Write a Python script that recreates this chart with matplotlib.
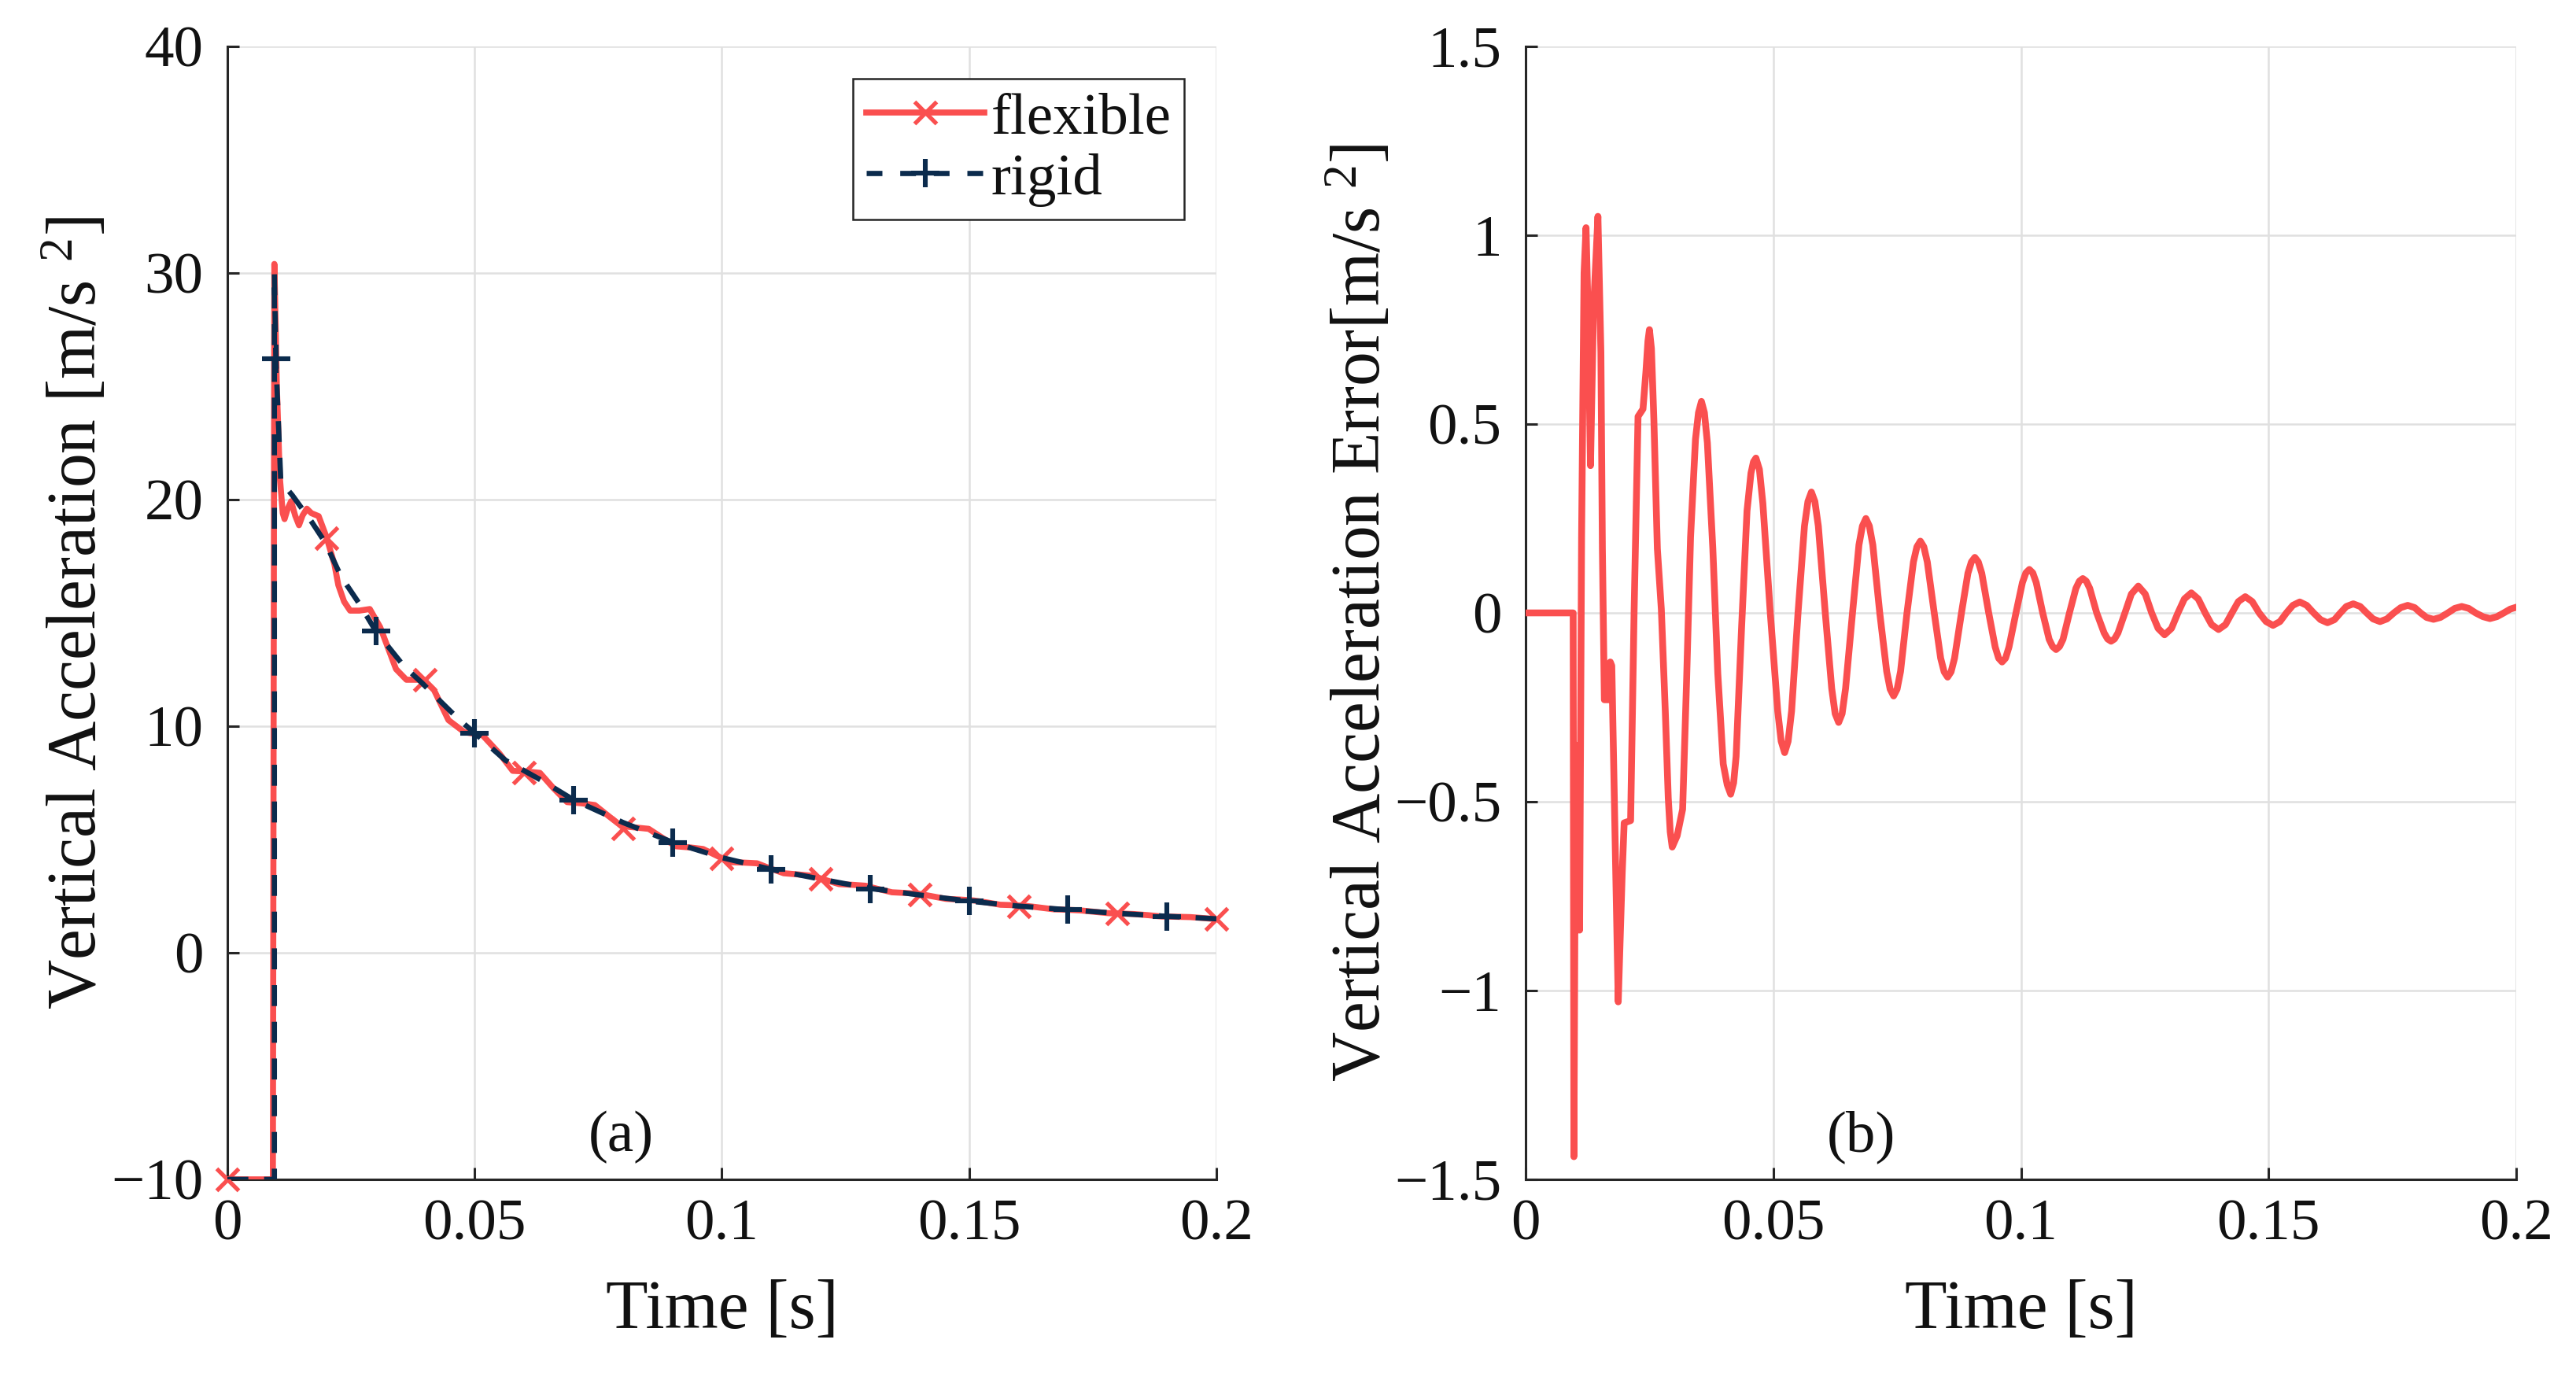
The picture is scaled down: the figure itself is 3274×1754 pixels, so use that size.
import numpy as np
import matplotlib
matplotlib.use("Agg")
import matplotlib.pyplot as plt
from matplotlib.lines import Line2D
from matplotlib.ticker import FixedLocator, FixedFormatter

plt.rcParams['font.family'] = ['Liberation Serif', 'DejaVu Serif']
plt.rcParams['mathtext.fontset'] = 'custom'
plt.rcParams['mathtext.rm'] = 'Liberation Serif'
plt.rcParams['mathtext.it'] = 'Liberation Serif:italic'
plt.rcParams['axes.unicode_minus'] = True

# ---------------- data ----------------
# (a) rigid model vertical acceleration
rigid_t = [0, 0.0095, 0.0095, 0.0098, 0.0108, 0.0131, 0.0171, 0.0198, 0.0230,
           0.0267, 0.0300, 0.0357, 0.0394, 0.0426, 0.0468, 0.0500, 0.0562,
           0.0636, 0.0700, 0.0800, 0.0900, 0.1000, 0.1100, 0.1200, 0.1300,
           0.1400, 0.1500, 0.1600, 0.1700, 0.1800, 0.1900, 0.2000]
rigid_a = [-10, -10, 30.0, 26.2, 20.8, 20.2, 19.0, 18.1, 16.6,
           15.4, 14.2, 12.65, 11.9, 11.2, 10.3, 9.7, 8.5,
           7.6, 6.75, 5.75, 4.88, 4.2, 3.68, 3.25, 2.84,
           2.55, 2.28, 2.06, 1.9, 1.74, 1.61, 1.5]

# (a) flexible model vertical acceleration
flex_t = [0, 0.0092, 0.0095, 0.0100, 0.0106, 0.0112, 0.01156, 0.0122, 0.01289,
          0.0137, 0.01448, 0.0152, 0.01607, 0.0170, 0.01846, 0.02005, 0.02164,
          0.02243, 0.0236, 0.02482, 0.02668, 0.0288, 0.0309, 0.0341, 0.0362,
          0.0397, 0.0418, 0.0447, 0.0479, 0.0516, 0.0550, 0.0577, 0.0605,
          0.0632, 0.0660, 0.0687, 0.0715, 0.0743, 0.0770, 0.0797, 0.0825,
          0.0852, 0.0880, 0.0907, 0.0935, 0.0962, 0.0990, 0.1017, 0.1044,
          0.1071, 0.1098, 0.1125, 0.1153, 0.1182, 0.1210, 0.1237, 0.1264,
          0.1290, 0.1317, 0.1344, 0.1372, 0.1399, 0.1426, 0.1453, 0.1481,
          0.1509, 0.1536, 0.1563, 0.1591, 0.1619, 0.1645, 0.1671, 0.1698,
          0.1725, 0.1753, 0.1781, 0.1807, 0.1833, 0.1862, 0.1890, 0.1918,
          0.1947, 0.1975, 0.2000]
flex_a = [-10, -10, 30.4, 25.0, 21.0, 19.4, 19.14, 19.6, 19.93,
          19.3, 18.87, 19.3, 19.6, 19.4, 19.27, 18.34, 17.15,
          16.23, 15.5, 15.10, 15.1, 15.17, 14.37, 12.52, 12.05,
          12.05, 11.59, 10.27, 9.74, 9.6, 8.8, 8.03, 8.0,
          7.94, 7.25, 6.65, 6.6, 6.52, 6.05, 5.59, 5.53,
          5.47, 5.07, 4.70, 4.65, 4.58, 4.28, 4.0, 3.98,
          3.95, 3.72, 3.51, 3.46, 3.4, 3.21, 3.03, 3.0,
          2.96, 2.81, 2.67, 2.64, 2.6, 2.49, 2.38, 2.35,
          2.31, 2.22, 2.12, 2.1, 2.06, 1.99, 1.92, 1.9,
          1.87, 1.81, 1.75, 1.73, 1.71, 1.66, 1.60, 1.59,
          1.575, 1.53, 1.485]

# marker positions
flex_mk_t = [0, 0.02, 0.04, 0.06, 0.08, 0.10, 0.12, 0.14, 0.16, 0.18, 0.20]
flex_mk_a = [-10, 18.3, 12.05, 7.95, 5.5, 4.17, 3.26, 2.57, 2.05, 1.72, 1.49]
rigid_mk_t = [0.0098, 0.03, 0.05, 0.07, 0.09, 0.11, 0.13, 0.15, 0.17, 0.19]
rigid_mk_a = [26.2, 14.2, 9.7, 6.74, 4.86, 3.67, 2.82, 2.28, 1.90, 1.61]

# (b) vertical acceleration error
err_t = [0, 0.0096, 0.00975, 0.0101, 0.0104, 0.0106, 0.0109, 0.0113, 0.0118,
         0.0122, 0.0126, 0.0131, 0.0137, 0.0146, 0.0152, 0.0155, 0.0159,
         0.0168, 0.0171, 0.0174, 0.0182, 0.0187, 0.0195, 0.0199, 0.0212,
         0.0219, 0.0227, 0.0237, 0.0243, 0.0247, 0.0250, 0.0254, 0.0259,
         0.0266, 0.0274, 0.0282, 0.0288, 0.0292, 0.0296, 0.0306, 0.0317,
         0.0325, 0.0333, 0.0343, 0.0349, 0.0355, 0.0361, 0.0367, 0.0378,
         0.0388, 0.0399, 0.0407, 0.0414, 0.0420, 0.0425, 0.0436, 0.0447,
         0.0455, 0.0460, 0.0465, 0.0472, 0.0479, 0.0494, 0.0509, 0.0516,
         0.0523, 0.0530, 0.0537, 0.0550, 0.0563, 0.0570, 0.0577, 0.0584,
         0.0591, 0.0605, 0.0618, 0.0625, 0.0632, 0.0639, 0.0646, 0.0660,
         0.0673, 0.0680, 0.0687, 0.0694, 0.0701, 0.0715, 0.0729, 0.0736,
         0.0743, 0.0750, 0.0757, 0.0770, 0.0783, 0.0790, 0.0797, 0.0804,
         0.0811, 0.0825, 0.0838, 0.0845, 0.0852, 0.0859, 0.0866, 0.0880,
         0.0893, 0.0900, 0.0907, 0.0914, 0.0921, 0.0935, 0.0948, 0.0955,
         0.0962, 0.0969, 0.0976, 0.0990, 0.1003, 0.1010, 0.1017, 0.1024,
         0.1031, 0.1044, 0.1057, 0.1064, 0.1071, 0.1078, 0.1085, 0.1098,
         0.1111, 0.1118, 0.1125, 0.1132, 0.1139, 0.1153, 0.1168, 0.1175,
         0.1182, 0.1189, 0.1196, 0.1210, 0.1223, 0.1237, 0.1251, 0.1264,
         0.1277, 0.1290, 0.1304, 0.1317, 0.1330, 0.1344, 0.1358, 0.1372,
         0.1385, 0.1399, 0.1413, 0.1426, 0.1439, 0.1453, 0.1467, 0.1481,
         0.1495, 0.1509, 0.1523, 0.1536, 0.1549, 0.1563, 0.1577, 0.1591,
         0.1605, 0.1619, 0.1633, 0.1645, 0.1657, 0.1671, 0.1685, 0.1698,
         0.1711, 0.1725, 0.1739, 0.1753, 0.1767, 0.1781, 0.1795, 0.1807,
         0.1819, 0.1833, 0.1847, 0.1862, 0.1876, 0.1890, 0.1904, 0.1918,
         0.1933, 0.1947, 0.1961, 0.1975, 0.1988, 0.2000]
err_v = [0, 0, -1.44, -0.35, -0.84, -0.36, -0.84, 0.2, 0.9,
         1.02, 0.8, 0.39, 0.8, 1.05, 0.69, 0.17, -0.23,
         -0.23, -0.13, -0.14, -0.69, -1.03, -0.69, -0.556, -0.55,
         0.0, 0.52, 0.54, 0.64, 0.72, 0.75, 0.70, 0.51,
         0.17, 0.01, -0.26, -0.49, -0.58, -0.62, -0.59, -0.52,
         -0.18, 0.20, 0.46, 0.53, 0.56, 0.53, 0.45, 0.17,
         -0.16, -0.40, -0.455, -0.48, -0.45, -0.38, -0.04, 0.27,
         0.37, 0.40, 0.41, 0.38, 0.29, 0.0, -0.26, -0.34,
         -0.37, -0.34, -0.26, 0.0, 0.23, 0.295, 0.32, 0.295,
         0.23, 0.0, -0.20, -0.267, -0.29, -0.267, -0.20, 0.0,
         0.18, 0.23, 0.25, 0.23, 0.18, 0.0, -0.155, -0.202,
         -0.22, -0.202, -0.155, 0.0, 0.135, 0.175, 0.19, 0.175,
         0.135, 0.0, -0.12, -0.156, -0.17, -0.156, -0.12, 0.0,
         0.105, 0.135, 0.147, 0.135, 0.105, 0.0, -0.09, -0.12,
         -0.13, -0.12, -0.09, 0.0, 0.08, 0.106, 0.115, 0.106,
         0.08, 0.0, -0.07, -0.089, -0.097, -0.089, -0.07, 0.0,
         0.065, 0.084, 0.091, 0.084, 0.065, 0.0, -0.053, -0.069,
         -0.075, -0.069, -0.053, 0.0, 0.05, 0.071, 0.05, 0.0,
         -0.041, -0.058, -0.041, 0.0, 0.037, 0.053, 0.037, 0.0,
         -0.031, -0.044, -0.031, 0.0, 0.03, 0.043, 0.03, 0.0,
         -0.023, -0.033, -0.023, 0.0, 0.02, 0.029, 0.02, 0.0,
         -0.018, -0.026, -0.018, 0.0, 0.017, 0.024, 0.017, 0.0,
         -0.016, -0.023, -0.016, 0.0, 0.014, 0.020, 0.014, 0.0,
         -0.012, -0.017, -0.012, 0.0, 0.012, 0.017, 0.012, 0.0,
         -0.01, -0.015, -0.01, 0.0, 0.01, 0.015]

x_ticks = [0, 0.05, 0.1, 0.15, 0.2]
x_tick_labels = ['0', '0.05', '0.1', '0.15', '0.2']
ya_ticks = [-10, 0, 10, 20, 30, 40]
ya_tick_labels = ['\u221210', '0', '10', '20', '30', '40']
yb_ticks = [-1.5, -1, -0.5, 0, 0.5, 1, 1.5]
yb_tick_labels = ['\u22121.5', '\u22121', '\u22120.5', '0', '0.5', '1', '1.5']

# ---------------- style ----------------
RED = '#FA4F4F'
NAVY = '#0B2B4D'
TICK_FS = 54
LABEL_FS = 63
GRID_C = '#e0e0e0'
SPINE_C = '#262626'
TEXT_C = '#111111'

fig = plt.figure(figsize=(32.74, 17.54), dpi=100)
ax1 = fig.add_axes([0.08827, 0.14538, 0.38393, 0.82098])
ax2 = fig.add_axes([0.59224, 0.14538, 0.38455, 0.82098])


def style_axes(ax, yticks, ylabels):
    ax.set_xlim(0, 0.2)
    ax.xaxis.set_major_locator(FixedLocator(x_ticks))
    ax.xaxis.set_major_formatter(FixedFormatter(x_tick_labels))
    ax.yaxis.set_major_locator(FixedLocator(yticks))
    ax.yaxis.set_major_formatter(FixedFormatter(ylabels))
    ax.grid(True, color=GRID_C, linewidth=1.8, zorder=0)
    ax.set_axisbelow(True)
    for s in ['top', 'right']:
        ax.spines[s].set_visible(False)
    for s in ['left', 'bottom']:
        ax.spines[s].set_color(SPINE_C)
        ax.spines[s].set_linewidth(2.2)
    ax.tick_params(axis='both', direction='in', length=11, width=2.2,
                   color=SPINE_C, labelsize=TICK_FS, labelcolor=TEXT_C)
    ax.tick_params(axis='x', pad=18)
    ax.tick_params(axis='y', pad=22)


# ---- panel (a)
style_axes(ax1, ya_ticks, ya_tick_labels)
ax1.set_ylim(-10, 40)
ax1.plot(flex_t, flex_a, color=RED, lw=5.5, zorder=3, solid_joinstyle='round')
ax1.plot(flex_mk_t, flex_mk_a, ls='none', marker='x', ms=20, mew=3.8,
         color=RED, zorder=4, clip_on=False)
ax1.plot(rigid_t, rigid_a, color=NAVY, lw=4.8, ls=(0, (4, 3)), zorder=5)
ax1.plot(rigid_mk_t, rigid_mk_a, ls='none', marker='+', ms=26, mew=4.4,
         color=NAVY, zorder=6, clip_on=False)

h_flex = Line2D([], [], color=RED, lw=5.5, marker='x', ms=20, mew=3.8)
h_rig = Line2D([], [], color=NAVY, lw=4.8, ls=(0, (3, 3.4)), marker='+', ms=26, mew=4.4)
leg = ax1.legend([h_flex, h_rig], ['flexible', 'rigid'], loc='upper right',
                 bbox_to_anchor=(0.9674, 0.9715), borderaxespad=0,
                 fontsize=54, handlelength=2.0, handletextpad=0.12,
                 borderpad=0.22, labelspacing=0.12, numpoints=1,
                 fancybox=False, framealpha=1, edgecolor=SPINE_C)
leg.get_frame().set_linewidth(1.8)
for t in leg.get_texts():
    t.set_color(TEXT_C)

ax1.set_xlabel('Time [s]', fontsize=LABEL_FS, color=TEXT_C)
ax1.xaxis.set_label_coords(0.5, -0.088)
ax1.set_ylabel(r'Vertical Acceleration [m/s $^{\mathrm{2}}$]', fontsize=LABEL_FS,
               color=TEXT_C)
ax1.yaxis.set_label_coords(-0.1185, 0.5)
ax1.text(0.398, 0.0375, '(a)', transform=ax1.transAxes, fontsize=54,
         ha='center', va='center', color=TEXT_C)

# ---- panel (b)
style_axes(ax2, yb_ticks, yb_tick_labels)
ax2.set_ylim(-1.5, 1.5)
ax2.plot(err_t, err_v, color=RED, lw=6.2, zorder=3, solid_joinstyle='round')
ax2.set_xlabel('Time [s]', fontsize=LABEL_FS, color=TEXT_C)
ax2.xaxis.set_label_coords(0.5, -0.088)
ax2.set_ylabel(r'Vertical Acceleration Error[m/s $^{\mathrm{2}}$]', fontsize=LABEL_FS,
               color=TEXT_C)
ax2.yaxis.set_label_coords(-0.1326, 0.5)
ax2.text(0.339, 0.0375, '(b)', transform=ax2.transAxes, fontsize=54,
         ha='center', va='center', color=TEXT_C)

fig.savefig('out.png', dpi=100)
